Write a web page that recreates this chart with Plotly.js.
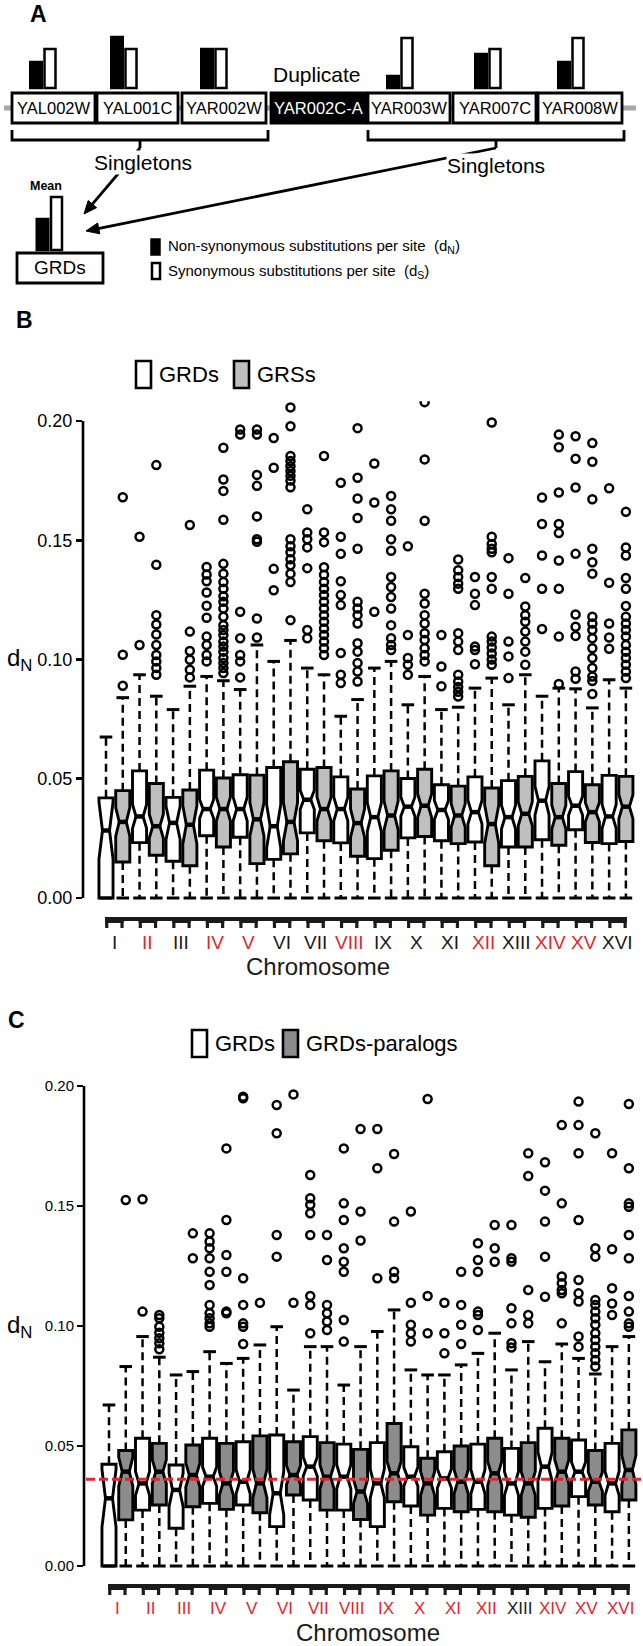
<!DOCTYPE html>
<html><head><meta charset="utf-8">
<script src="https://cdn.plot.ly/plotly-3.0.1.min.js"></script>
<style>html,body{margin:0;padding:0;background:#fff}</style>
</head><body><div id="chart" style="width:643px;height:1646px"></div>
<script>
const W = 643, H = 1646;
const F = 'Liberation Sans, Arial, Helvetica, sans-serif';
const X = p => p / W, Y = p => 1 - p / H;

// ---------- Panel A data ----------
const genes = ['YAL002W','YAL001C','YAR002W','YAR002C-A','YAR003W','YAR007C','YAR008W'];
const geneDN = [26, 51, 39, null, 12, 34, 26];
const geneDS = [39, 39, 39, null, 50, 39, 50];
const meanDN = 31, meanDS = 53;

// ---------- Chromosomes ----------
const chrom = ['I','II','III','IV','V','VI','VII','VIII','IX','X','XI','XII','XIII','XIV','XV','XVI'];
const redB = [0,1,0,1,1,0,0,1,0,0,0,1,0,1,1,0];
const redC = [1,1,1,1,1,1,1,1,1,1,1,1,0,1,1,1];
const yTicks = [0, 0.05, 0.10, 0.15, 0.20];
const yTickText = ['0.00','0.05','0.10','0.15','0.20'];

// ---------- Panel B: GRDs ----------
const bGRD_q3 = [0.042,0.0533,0.0422,0.0536,0.0517,0.0547,0.054,0.0508,0.0512,0.0501,0.0475,0.0508,0.0492,0.0575,0.053,0.0514];
const bGRD_med = [0.0283,0.0342,0.0315,0.0373,0.0373,0.0301,0.0412,0.0373,0.0339,0.0383,0.0369,0.036,0.0339,0.0408,0.0387,0.0342];
const bGRD_q1 = [0,0.0232,0.0154,0.0261,0.0255,0.0162,0.0273,0.0231,0.0165,0.0252,0.024,0.0235,0.0214,0.0244,0.0286,0.0228];
const bGRD_hi = [0.0675,0.0936,0.079,0.0929,0.0874,0.0992,0.0964,0.0762,0.0964,0.081,0.079,0.088,0.081,0.0846,0.0877,0.0915];
const bGRD_lo = [0,0,0,0,0,0,0,0,0,0,0,0,0,0,0,0];
const bGRD_notch = [0.012,0.005,0.007,0.004,0.005,0.009,0.004,0.005,0.006,0.004,0.004,0.005,0.005,0.006,0.004,0.005];
const bGRD_out = [
 [],
 [0.1061,0.1515],
 [],
 [0.0992,0.1019,0.1061,0.1096,0.1175,0.1225,0.1281,0.1328,0.1356,0.1388],
 [0.0925,0.0992,0.1019,0.1089,0.12,0.1943,0.1964],
 [0.129,0.138,0.1804,0.1929],
 [0.1089,0.1124,0.1383,0.147,0.1504,0.1533,0.163],
 [0.0901,0.0936,0.1027,0.1228,0.127,0.1328,0.1443,0.1515,0.1741],
 [0.12,0.1658,0.1822],
 [0.0936,0.0978,0.1006,0.1103,0.1475],
 [0.0888,0.0971,0.1103],
 [0.098,0.104,0.1054,0.1228,0.1276,0.1346],
 [0.0922,0.1013,0.1075,0.1276,0.1425],
 [0.1128,0.1297,0.1436,0.1568,0.1679],
 [0.0919,0.095,0.1099,0.1137,0.1189,0.1443,0.1721,0.1842,0.1936],
 [0.1045,0.1092,0.1151,0.1322,0.1718]
];
// ---------- Panel B: GRSs ----------
const bGRS_q3 = [0.045,0.048,0.0453,0.0503,0.0515,0.0571,0.0547,0.0457,0.0533,0.054,0.0469,0.0461,0.051,0.048,0.0475,0.051];
const bGRS_med = [0.0319,0.0301,0.0307,0.0373,0.033,0.0319,0.0373,0.0314,0.0346,0.0387,0.0346,0.031,0.0353,0.0339,0.036,0.0383];
const bGRS_q1 = [0.0151,0.0179,0.0135,0.0214,0.0144,0.0185,0.024,0.0175,0.02,0.0258,0.0228,0.0135,0.0214,0.0221,0.0233,0.0237];
const bGRS_hi = [0.084,0.0846,0.0888,0.0911,0.1061,0.108,0.0936,0.0832,0.0992,0.0929,0.08,0.0922,0.0936,0.088,0.0797,0.088];
const bGRS_lo = [0,0,0,0,0,0,0,0,0,0,0,0,0,0,0,0];
const bGRS_notch = [0.006,0.005,0.008,0.005,0.007,0.008,0.005,0.006,0.006,0.005,0.005,0.008,0.005,0.005,0.004,0.005];
const bGRS_out = [
 [0.089,0.102,0.168],
 [0.0936,0.0964,0.0992,0.1019,0.1061,0.1105,0.1147,0.1186,0.1397,0.1815],
 [0.0925,0.0957,0.0999,0.1036,0.1117,0.1564],
 [0.0943,0.0964,0.0985,0.1006,0.1033,0.1054,0.1075,0.1103,0.1124,0.1144,0.1179,0.1214,0.1242,0.1265,0.1297,0.1325,0.136,0.1401,0.1586,0.1707,0.1755,0.1888],
 [0.1092,0.1172,0.1494,0.1504,0.16,0.1728,0.1774,0.1943,0.1964],
 [0.1165,0.1325,0.136,0.1395,0.142,0.145,0.1475,0.1504,0.1722,0.175,0.177,0.179,0.181,0.1832,0.1853,0.1978,0.2057],
 [0.1019,0.1047,0.1075,0.1103,0.113,0.1158,0.1186,0.1214,0.1242,0.127,0.1297,0.1325,0.1355,0.1387,0.1492,0.1533,0.1853],
 [0.0908,0.095,0.0985,0.1033,0.1068,0.1151,0.1186,0.1214,0.1242,0.1464,0.1593,0.1675,0.1762,0.197],
 [0.104,0.1061,0.1089,0.1144,0.1214,0.1262,0.1304,0.1346,0.1456,0.1504,0.1582,0.163,0.1686],
 [0.0992,0.1019,0.1047,0.1082,0.111,0.1151,0.1186,0.1235,0.1276,0.1582,0.1839,0.2079],
 [0.0845,0.0865,0.0885,0.0908,0.0936,0.104,0.1075,0.111,0.1297,0.1318,0.1346,0.1374,0.1419],
 [0.0978,0.1,0.1025,0.105,0.1075,0.1096,0.1297,0.1346,0.145,0.1464,0.1484,0.1515,0.1994],
 [0.0978,0.1033,0.1075,0.1117,0.1158,0.1186,0.1222,0.1342],
 [0.0897,0.1096,0.1297,0.1415,0.153,0.1568,0.17,0.189,0.1943],
 [0.0855,0.091,0.0929,0.0964,0.1006,0.1047,0.1089,0.1124,0.1151,0.1179,0.136,0.1408,0.1464,0.1672,0.1829,0.1908],
 [0.0922,0.095,0.0978,0.1006,0.1033,0.1061,0.1096,0.1124,0.1151,0.1179,0.1224,0.1297,0.1342,0.1436,0.147,0.1619]
];

// ---------- Panel C: GRDs ----------
const cGRD_q3 = [0.0424,0.0532,0.0421,0.0532,0.0518,0.0546,0.0539,0.0508,0.0514,0.0497,0.0476,0.0508,0.049,0.0574,0.0525,0.0511];
const cGRD_med = [0.0282,0.0344,0.0317,0.0372,0.0351,0.0303,0.0414,0.0372,0.0344,0.0372,0.0365,0.0351,0.0344,0.0414,0.0393,0.0344];
const cGRD_q1 = [0,0.0233,0.0157,0.0261,0.0254,0.0164,0.0275,0.0233,0.0164,0.025,0.024,0.0236,0.0212,0.024,0.0289,0.0226];
const cGRD_hi = [0.0671,0.0956,0.0796,0.0893,0.0865,0.0997,0.0914,0.0754,0.0977,0.0817,0.0796,0.0886,0.0817,0.0851,0.0865,0.0914];
const cGRD_lo = [0,0,0,0,0,0,0,0,0,0,0,0,0,0,0,0];
const cGRD_notch = [0.012,0.005,0.007,0.004,0.005,0.009,0.004,0.005,0.006,0.004,0.004,0.005,0.005,0.006,0.004,0.005];
const cGRD_out = [
 [],
 [0.106,0.1528],
 [],
 [0.0997,0.1011,0.1032,0.1053,0.1088,0.1171,0.1226,0.1282,0.1324,0.1352,0.1386],
 [0.0925,0.0997,0.1011,0.1088,0.1199,0.1949,0.1955],
 [0.1289,0.1379,0.1803,0.1921],
 [0.097,0.1088,0.1125,0.1379,0.147,0.1505,0.1532,0.1629],
 [0.0935,0.1025,0.1226,0.1268,0.1324,0.1442,0.1511,0.174],
 [0.1199,0.1657,0.1821],
 [0.0935,0.097,0.1005,0.1097,0.1477],
 [0.0886,0.097,0.1097],
 [0.0983,0.1046,0.106,0.1226,0.1275,0.1345],
 [0.091,0.0928,0.1011,0.1074,0.1268,0.1282,0.1421],
 [0.1122,0.1289,0.1435,0.1564,0.1682],
 [0.0914,0.0956,0.1102,0.1136,0.1192,0.1442,0.172,0.1837,0.1935],
 [0.1046,0.1094,0.1157,0.132,0.172]
];
// ---------- Panel C: GRDs-paralogs ----------
const cPAR_q3 = [0.0481,0.0511,0.0504,0.0511,0.0542,0.0518,0.0514,0.0486,0.0594,0.0449,0.05,0.0532,0.0514,0.0532,0.0481,0.0567];
const cPAR_med = [0.0393,0.0393,0.0379,0.0344,0.0344,0.0379,0.0372,0.031,0.0386,0.0344,0.0351,0.0386,0.0344,0.0393,0.0351,0.04];
const cPAR_q1 = [0.0192,0.0254,0.0247,0.0236,0.0222,0.0296,0.0233,0.0194,0.0268,0.0212,0.0226,0.0226,0.0203,0.025,0.0254,0.0275];
const cPAR_hi = [0.0831,0.087,0.081,0.0844,0.0921,0.0733,0.0914,0.0914,0.1067,0.0796,0.0838,0.097,0.0935,0.0925,0.08,0.0956];
const cPAR_lo = [0,0,0,0,0,0,0,0,0,0,0,0,0,0,0,0];
const cPAR_notch = [0.006,0.005,0.005,0.005,0.006,0.004,0.005,0.005,0.005,0.005,0.005,0.005,0.005,0.005,0.004,0.006];
const cPAR_out = [
 [0.1525],
 [0.0903,0.0928,0.0949,0.0972,0.0997,0.1032,0.1046],
 [0.1282,0.1386],
 [0.1053,0.106,0.1226,0.1296,0.1442,0.174],
 [0.1097],
 [0.1097,0.1965],
 [0.0983,0.1019,0.1053,0.1088,0.1275,0.1379],
 [0.1356,0.1477,0.1821],
 [0.1199,0.1226,0.1435,0.1717],
 [0.097,0.1125,0.1946],
 [0.0925,0.1005,0.1088,0.1226],
 [0.1268,0.1324,0.1421],
 [0.1011,0.1046,0.115,0.1625,0.172],
 [0.1011,0.1136,0.115,0.1178,0.1206,0.1511,0.1837],
 [0.0831,0.0858,0.0886,0.0914,0.0942,0.097,0.1005,0.1032,0.106,0.1088,0.1108,0.1289,0.1324,0.1803],
 [0.0997,0.1011,0.106,0.1125,0.1282,0.1379,0.1497,0.1511,0.1657,0.1925]
];
const cMeanLine = 0.0361;

// ---------- builders ----------
function buildPanel(xa, ya, groups) {
  const traces = [];
  const wx = [], wy = [], cx = [], cy = [], mx = [], my = [], ox = [], oy = [];
  groups.forEach(g => {
    const pos = g.q1.map((_, i) => 2 * i + 1 + g.offset);
    traces.push({
      type: 'box', orientation: 'v', xaxis: xa, yaxis: ya, x: pos,
      q1: g.q1, median: g.med, q3: g.q3, lowerfence: g.q1, upperfence: g.q3,
      notched: true, notchspan: g.notch, notchwidth: 0.25, width: 0.84,
      fillcolor: g.fill, line: { color: '#000', width: 2.9 }, whiskerwidth: 0,
      boxpoints: false, hoverinfo: 'skip', showlegend: false
    });
    pos.forEach((p, i) => {
      wx.push(p, p, null, p, p, null);
      wy.push(g.q3[i], g.hi[i], null, g.q1[i], g.lo[i], null);
      cx.push(p, p); cy.push(g.hi[i], g.lo[i]);
      mx.push(p); my.push(g.med[i]);
      g.out[i].forEach(v => { ox.push(p); oy.push(v); });
    });
  });
  traces.unshift({ type: 'scatter', mode: 'lines', xaxis: xa, yaxis: ya, x: wx, y: wy,
    line: { color: '#000', width: 2.5, dash: '8px,5px' }, connectgaps: false, hoverinfo: 'skip', showlegend: false });
  traces.unshift({ type: 'scatter', mode: 'markers', xaxis: xa, yaxis: ya, x: cx, y: cy,
    marker: { symbol: 'line-ew', size: 9, line: { color: '#000', width: 3 } }, hoverinfo: 'skip', showlegend: false });
  traces.push({ type: 'scatter', mode: 'markers', xaxis: xa, yaxis: ya, x: mx, y: my,
    marker: { symbol: 'line-ew', size: 7, line: { color: '#000', width: 4.5 } }, hoverinfo: 'skip', showlegend: false });
  traces.push({ type: 'scatter', mode: 'markers', xaxis: xa, yaxis: ya, x: ox, y: oy,
    marker: { symbol: 'circle-open', size: 8, color: '#000', line: { color: '#000', width: 2.5 } }, hoverinfo: 'skip', showlegend: false });
  return traces;
}

const traces = [];
traces.push(...buildPanel('x', 'y', [
  { offset: 0, q1: bGRD_q1, med: bGRD_med, q3: bGRD_q3, hi: bGRD_hi, lo: bGRD_lo, notch: bGRD_notch, out: bGRD_out, fill: '#ffffff' },
  { offset: 1, q1: bGRS_q1, med: bGRS_med, q3: bGRS_q3, hi: bGRS_hi, lo: bGRS_lo, notch: bGRS_notch, out: bGRS_out, fill: '#bfbfbf' }
]));
traces.push(...buildPanel('x2', 'y2', [
  { offset: 0, q1: cGRD_q1, med: cGRD_med, q3: cGRD_q3, hi: cGRD_hi, lo: cGRD_lo, notch: cGRD_notch, out: cGRD_out, fill: '#ffffff' },
  { offset: 1, q1: cPAR_q1, med: cPAR_med, q3: cPAR_q3, hi: cPAR_hi, lo: cPAR_lo, notch: cPAR_notch, out: cPAR_out, fill: '#8c8c8c' }
]));

// Panel A bars (x3/y3: 1 unit = 1 px, base at y=88 px)
const barPos = [43, 124, 214, null, 400, 488, 571];
const dnX = [], dnY = [], dsX = [], dsY = [];
genes.forEach((g, i) => {
  if (geneDN[i] != null) { dnX.push(barPos[i] - 7); dnY.push(geneDN[i]); dsX.push(barPos[i] + 7); dsY.push(geneDS[i]); }
});
dnX.push(42.5); dnY.push(meanDN); dsX.push(56.5); dsY.push(meanDS);
const baseArr = dnX.map((_, i) => i === dnX.length - 1 ? -162 : 0);
traces.push({ type: 'bar', xaxis: 'x3', yaxis: 'y3', x: dnX, y: dnY, base: baseArr, width: 11.5,
  marker: { color: '#000', line: { color: '#000', width: 2.5 } }, hoverinfo: 'skip', showlegend: false });
traces.push({ type: 'bar', xaxis: 'x3', yaxis: 'y3', x: dsX, y: dsY, base: baseArr, width: 11,
  marker: { color: '#fff', line: { color: '#000', width: 2.5 } }, hoverinfo: 'skip', showlegend: false });

// ---------- shapes / annotations ----------
const shapes = [];
const ann = [];
function txt(x, y, text, size, opts) {
  ann.push(Object.assign({ xref: 'paper', yref: 'paper', x: X(x), y: Y(y), text: text, showarrow: false,
    xanchor: 'center', yanchor: 'middle', font: { family: F, size: size, color: '#000' } }, opts || {}));
}
// Panel A gene row
shapes.push({ type: 'line', xref: 'paper', yref: 'paper', x0: X(4), x1: X(636), y0: Y(108), y1: Y(108), line: { color: '#a6a6a6', width: 5 } });
const geneL = [12, 97, 182, 271, 368, 453, 538], geneR = [95, 178, 266, 366, 450, 536, 622];
genes.forEach((g, i) => {
  const dup = i === 3;
  shapes.push({ type: 'rect', xref: 'paper', yref: 'paper', x0: X(geneL[i]), x1: X(geneR[i]), y0: Y(123), y1: Y(93),
    fillcolor: dup ? '#000' : '#fff', line: { color: '#000', width: 2.8 } });
  txt((geneL[i] + geneR[i]) / 2, 108.5, g, 16.5, { font: { family: F, size: 16.5, color: dup ? '#fff' : '#000' } });
});
// brackets
function bracket(x0, x1, xc) {
  shapes.push({ type: 'path', xref: 'paper', yref: 'paper', path: `M${X(x0)},${Y(130)} L${X(x0)},${Y(140)} L${X(x1)},${Y(140)} L${X(x1)},${Y(130)}`, line: { color: '#000', width: 2.8 } });
  shapes.push({ type: 'line', xref: 'paper', yref: 'paper', x0: X(xc), x1: X(xc), y0: Y(140), y1: Y(148), line: { color: '#000', width: 2.8 } });
}
bracket(12, 268, 140);
bracket(368, 624, 496);
// arrows drawn as a line plus a filled head
function arrow(x0, y0, x1, y1) {
  const dx = x1 - x0, dy = y1 - y0, L = Math.hypot(dx, dy), ux = dx / L, uy = dy / L;
  const hl = 13, hw = 5.5;
  const bx = x1 - ux * hl, by = y1 - uy * hl;
  shapes.push({ type: 'line', xref: 'paper', yref: 'paper', x0: X(x0), y0: Y(y0), x1: X(bx + ux * 2), y1: Y(by + uy * 2), line: { color: '#000', width: 2.8 } });
  const p1 = [bx - uy * hw, by + ux * hw], p2 = [bx + uy * hw, by - ux * hw];
  shapes.push({ type: 'path', xref: 'paper', yref: 'paper', path: `M${X(x1)},${Y(y1)} L${X(p1[0])},${Y(p1[1])} L${X(p2[0])},${Y(p2[1])} Z`, fillcolor: '#000', line: { color: '#000', width: 1 } });
}
arrow(140, 148, 84, 214);
arrow(496, 148, 86, 231);
// GRDs box
shapes.push({ type: 'rect', xref: 'paper', yref: 'paper', x0: X(17), x1: X(103), y0: Y(283), y1: Y(253), fillcolor: '#fff', line: { color: '#000', width: 2.8 } });
// legend squares panel A
shapes.push({ type: 'rect', xref: 'paper', yref: 'paper', x0: X(151), x1: X(160), y0: Y(255), y1: Y(239), fillcolor: '#000', line: { color: '#000', width: 1.5 } });
shapes.push({ type: 'rect', xref: 'paper', yref: 'paper', x0: X(152), x1: X(160), y0: Y(279), y1: Y(263), fillcolor: '#fff', line: { color: '#000', width: 2.5 } });

txt(38, 14, '<b>A</b>', 23);
txt(317, 74, 'Duplicate', 21);
txt(143, 162, 'Singletons', 21, { bgcolor: '#fff', borderpad: 0 });
txt(496, 165, 'Singletons', 21, { bgcolor: '#fff', borderpad: 0 });
txt(46, 186, '<b>Mean</b>', 12.5);
txt(60, 268, 'GRDs', 19);
txt(166, 247, 'Non-synonymous substitutions per site  (d<sub>N</sub>)', 15, { xanchor: 'left' });
txt(166, 271, 'Synonymous substitutions per site  (d<sub>S</sub>)', 15, { xanchor: 'left' });

// ---------- Panels B and C decorations ----------
function chartDeco(xa, ya, axisPx, stripTop, labY, labColors, labSize, chromY, chromX, dY) {
  shapes.push({ type: 'line', xref: 'paper', yref: ya, x0: X(axisPx), x1: X(axisPx), y0: 0, y1: 0.2, line: { color: '#000', width: 2.6 } });
  shapes.push({ type: 'rect', xref: xa, yref: 'paper', x0: 1.5 - 0.55, x1: 31.5 + 0.55, y0: Y(stripTop + 4), y1: Y(stripTop), fillcolor: '#1a1a1a', line: { width: 0 } });
  chrom.forEach((c, i) => {
    const cx = 2 * i + 1.5;
    shapes.push({ type: 'rect', xref: xa, yref: 'paper', x0: cx - 0.55, x1: cx + 0.55, y0: Y(stripTop + 6), y1: Y(stripTop), fillcolor: '#1a1a1a', line: { width: 0 } });
    shapes.push({ type: 'rect', xref: xa, yref: 'paper', x0: cx - 0.55, x1: cx - 0.36, y0: Y(stripTop + 11), y1: Y(stripTop), fillcolor: '#1a1a1a', line: { width: 0 } });
    shapes.push({ type: 'rect', xref: xa, yref: 'paper', x0: cx + 0.36, x1: cx + 0.55, y0: Y(stripTop + 11), y1: Y(stripTop), fillcolor: '#1a1a1a', line: { width: 0 } });
    ann.push({ xref: xa, yref: 'paper', x: cx, y: Y(labY), text: c, showarrow: false, xanchor: 'center', yanchor: 'middle',
      font: { family: F, size: labSize, color: labColors[i] ? '#e3262d' : '#1a1a1a' } });
  });
  txt(chromX, chromY, 'Chromosome', 24, { font: { family: F, size: 24, color: '#1a1a1a' } });
  txt(19, dY, 'd<sub>N</sub>', 24);
}
chartDeco('x', 'y', 83, 917, 942, redB, 19, 967, 318, 659);
chartDeco('x2', 'y2', 84, 1584, 1608, redC, 17, 1632, 368, 1326);

// red mean line in C
shapes.push({ type: 'line', xref: 'paper', yref: 'y2', x0: X(86), x1: 1, y0: cMeanLine, y1: cMeanLine, line: { color: '#e3262d', width: 3, dash: '9px,4px' }, layer: 'above' });

// legends B and C
function legend(y, items) {
  items.forEach(it => {
    shapes.push({ type: 'rect', xref: 'paper', yref: 'paper', x0: X(it.bx), x1: X(it.bx + 15), y0: Y(y + 14), y1: Y(y - 13), fillcolor: it.fill, line: { color: '#000', width: 2.6 } });
    txt(it.tx, y, it.text, 22, { xanchor: 'left' });
  });
}
legend(374, [{ bx: 136, tx: 157, fill: '#fff', text: 'GRDs' }, { bx: 234, tx: 255, fill: '#bfbfbf', text: 'GRSs' }]);
legend(1043, [{ bx: 192, tx: 213, fill: '#fff', text: 'GRDs' }, { bx: 283, tx: 304, fill: '#8c8c8c', text: 'GRDs-paralogs' }]);
txt(24, 320, '<b>B</b>', 23);
txt(16, 1020, '<b>C</b>', 23);

const yAxisCommon = { showline: false, zeroline: false, showgrid: false, ticks: 'outside', ticklen: 6, tickwidth: 2.6, tickcolor: '#000',
  tickvals: yTicks, ticktext: yTickText, fixedrange: true };

// Panel B: 0.00 at 898 px, 2385 px per unit; Panel C: 0.00 at 1566 px, 2400 px per unit
const layout = {
  width: W, height: H, margin: { l: 0, r: 0, t: 0, b: 0 },
  paper_bgcolor: '#fff', plot_bgcolor: 'rgba(0,0,0,0)', showlegend: false,
  font: { family: F, color: '#000' }, bargap: 0, barmode: 'overlay',
  xaxis: { domain: [X(83), 1], range: [-0.3715, 33.02], visible: false, anchor: 'y', fixedrange: true },
  yaxis: Object.assign({ domain: [Y(912), Y(898 - 0.2083 * 2385)], range: [-14 / 2385, 0.2083], anchor: 'x', tickfont: { family: F, size: 18, color: '#000' } }, yAxisCommon),
  xaxis2: { domain: [X(84), 1], range: [-0.4908, 32.843], visible: false, anchor: 'y2', fixedrange: true },
  yaxis2: Object.assign({ domain: [Y(1580), Y(1062)], range: [-0.005833, 0.21], anchor: 'x2', tickfont: { family: F, size: 15, color: '#000' } }, yAxisCommon),
  xaxis3: { domain: [0, 1], range: [0, 643], visible: false, anchor: 'y3', fixedrange: true },
  yaxis3: { domain: [Y(300), 1], range: [-212, 88], visible: false, anchor: 'x3', fixedrange: true },
  shapes: shapes, annotations: ann
};

Plotly.newPlot('chart', traces, layout, { staticPlot: true, displayModeBar: false });
</script>
</body></html>
